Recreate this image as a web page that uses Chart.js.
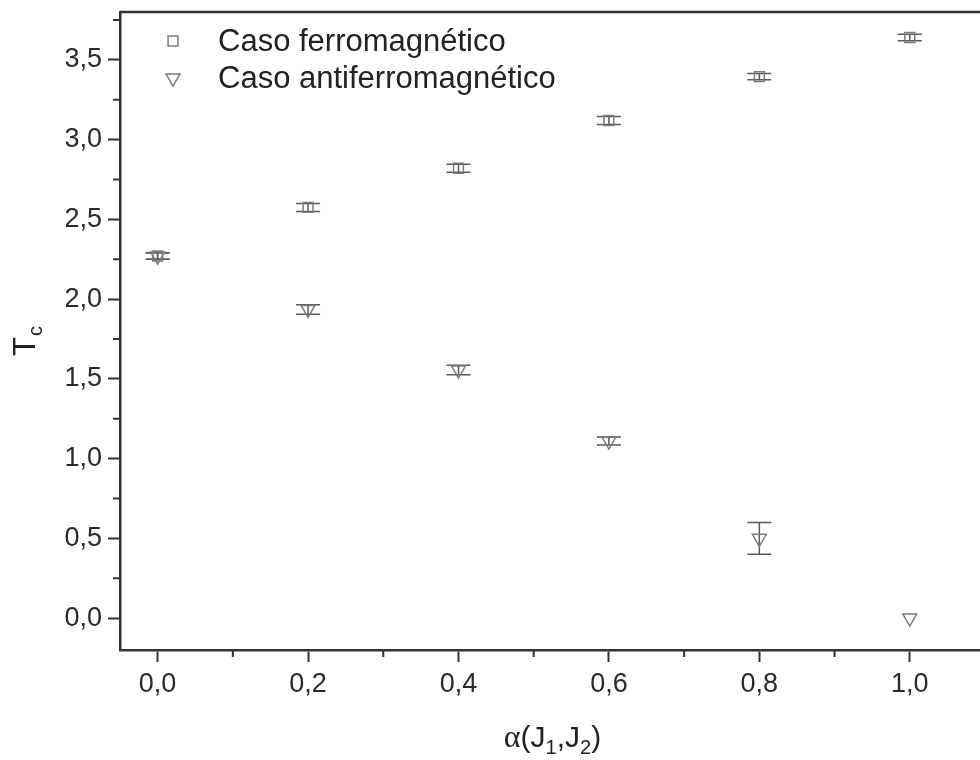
<!DOCTYPE html>
<html>
<head>
<meta charset="utf-8">
<script src="https://cdn.jsdelivr.net/npm/chart.js@4.4.1/dist/chart.umd.min.js"></script>
<style>
  html, body { margin: 0; padding: 0; background: #fff; overflow: hidden; }
  #wrap { width: 1000px; height: 760px; }
</style>
</head>
<body>
<div id="wrap"><canvas id="tcChart" width="1000" height="760"></canvas></div>
<script>
// =====================
// Data
// =====================
const alphaValues = [0, 0.2, 0.4, 0.6, 0.8, 1.0]

const ferroLabel = "Caso ferromagnético"
const ferroTc = [2.27, 2.575, 2.82, 3.12, 3.395, 3.64]
const ferroErr = [0.02, 0.025, 0.025, 0.025, 0.02, 0.02]

const antiLabel = "Caso antiferromagnético"
const antiTc = [2.27, 1.935, 1.555, 1.11, 0.5, 0.0]
const antiErr = [0.02, 0.03, 0.03, 0.025, 0.10, 0]

const xTicks = [0, 0.2, 0.4, 0.6, 0.8, 1.0]
const xMinorTicks = [0.1, 0.3, 0.5, 0.7, 0.9]
const yTicks = [0, 0.5, 1.0, 1.5, 2.0, 2.5, 3.0, 3.5]
const yMinorTicks = [-0.25, 0.25, 0.75, 1.25, 1.75, 2.25, 2.75, 3.25, 3.75]

const AXIS = "#333"
const MARK = "#7c7c7c"
const ERRBAR = "#5a5a5a"
const SANS = "'Liberation Sans', Arial, sans-serif"

function comma(v) {
  return v.toFixed(1).replace(".", ",")
}

function toPoints(ys, errs) {
  return alphaValues.map((x, i) => ({ x: x, y: ys[i], err: errs[i] }))
}


// =====================
// Extra drawing: error bars, minor ticks, frame, legend, titles
// =====================
const extrasPlugin = {
  id: "extras",
  beforeDatasetsDraw(chart) {
    const ctx = chart.ctx
    const xs = chart.scales.x
    const ys = chart.scales.y
    ctx.save()
    ctx.strokeStyle = ERRBAR
    ctx.lineWidth = 1.5
    chart.data.datasets.forEach(ds => {
      ds.data.forEach(p => {
        if (!p.err) return
        const px = xs.getPixelForValue(p.x)
        const top = ys.getPixelForValue(p.y + p.err)
        const bot = ys.getPixelForValue(p.y - p.err)
        ctx.beginPath()
        ctx.moveTo(px, top); ctx.lineTo(px, bot)
        ctx.moveTo(px - 12, top); ctx.lineTo(px + 12, top)
        ctx.moveTo(px - 12, bot); ctx.lineTo(px + 12, bot)
        ctx.stroke()
      })
    })
    ctx.restore()
  },
  afterDraw(chart) {
    const ctx = chart.ctx
    const area = chart.chartArea
    const xs = chart.scales.x
    const ys = chart.scales.y
    ctx.save()

    // top frame line
    ctx.strokeStyle = AXIS
    ctx.lineWidth = 2.5
    ctx.beginPath()
    ctx.moveTo(area.left, area.top)
    ctx.lineTo(area.right + 20, area.top)
    ctx.stroke()

    // minor ticks
    ctx.lineWidth = 2
    ctx.beginPath()
    xMinorTicks.forEach(v => {
      const px = xs.getPixelForValue(v)
      ctx.moveTo(px, area.bottom); ctx.lineTo(px, area.bottom + 7)
    })
    yMinorTicks.forEach(v => {
      const py = ys.getPixelForValue(v)
      if (py < area.top || py > area.bottom) return
      ctx.moveTo(area.left, py); ctx.lineTo(area.left - 7, py)
    })
    ctx.stroke()

    // legend
    const rows = [
      { label: chart.data.datasets[0].label, style: "rect", y: 41 },
      { label: chart.data.datasets[1].label, style: "triangle", y: 78 }
    ]
    rows.forEach(r => {
      ctx.strokeStyle = MARK
      ctx.fillStyle = "rgba(0,0,0,0)"
      ctx.lineWidth = 1.5
      Chart.helpers.drawPoint(ctx, {
        pointStyle: r.style,
        radius: r.style === "rect" ? 7 : 8,
        rotation: r.style === "triangle" ? 180 : 0,
        borderWidth: 1.5
      }, 173, r.y)
      ctx.font = "31px " + SANS
      ctx.fillStyle = "#222"
      ctx.textBaseline = "middle"
      ctx.fillText(r.label, 218, r.y + 1)
    })

    // y title T_c
    ctx.fillStyle = "#222"
    ctx.translate(35, 356)
    ctx.rotate(-Math.PI / 2)
    ctx.textBaseline = "alphabetic"
    ctx.textAlign = "left"
    ctx.font = "31px " + SANS
    ctx.fillText("T", 0, 0)
    const tw = ctx.measureText("T").width
    ctx.font = "20px " + SANS
    ctx.fillText("c", tw + 1, 7)
    ctx.setTransform(1, 0, 0, 1, 0, 0)

    // x title α(J1,J2)
    const parts = [
      { t: "α", f: "32px 'Liberation Serif', serif", dy: 0 },
      { t: "(J", f: "30px " + SANS, dy: 0 },
      { t: "1", f: "20px " + SANS, dy: 7 },
      { t: ",J", f: "30px " + SANS, dy: 0 },
      { t: "2", f: "20px " + SANS, dy: 7 },
      { t: ")", f: "30px " + SANS, dy: 0 }
    ]
    let total = 0
    parts.forEach(p => { ctx.font = p.f; p.w = ctx.measureText(p.t).width; total += p.w })
    let cx = (area.left + area.right) / 2 - total / 2
    parts.forEach(p => {
      ctx.font = p.f
      ctx.fillText(p.t, cx, 747 + p.dy)
      cx += p.w
    })

    ctx.restore()
  }
}


// =====================
// Build chart
// =====================
const chart = new Chart(document.getElementById("tcChart"), {
  type: "scatter",
  data: {
    datasets: [
      {
        label: ferroLabel,
        data: toPoints(ferroTc, ferroErr),
        pointStyle: "rect",
        pointRadius: 7,
        pointBorderColor: MARK,
        pointBackgroundColor: "rgba(0,0,0,0)",
        pointBorderWidth: 1.5
      },
      {
        label: antiLabel,
        data: toPoints(antiTc, antiErr),
        pointStyle: "triangle",
        pointRotation: 180,
        pointRadius: 8,
        pointBorderColor: MARK,
        pointBackgroundColor: "rgba(0,0,0,0)",
        pointBorderWidth: 1.5
      }
    ]
  },
  options: {
    responsive: false,
    animation: false,
    devicePixelRatio: 1,
    layout: { padding: { left: 0, top: 12, right: 15, bottom: 0 } },
    plugins: {
      legend: { display: false },
      tooltip: { enabled: false }
    },
    scales: {
      x: {
        type: "linear",
        min: -0.05,
        max: 1.1,
        afterBuildTicks: s => { s.ticks = xTicks.map(v => ({ value: v })) },
        afterFit: s => { s.height = 110; s.paddingLeft = 0; s.paddingRight = 0 },
        border: { display: true, color: AXIS, width: 2.5 },
        grid: { drawOnChartArea: false, drawTicks: true, tickLength: 12, tickColor: AXIS, tickWidth: 2 },
        ticks: {
          padding: 6,
          color: "#2a2a2a",
          font: { family: SANS, size: 27 },
          maxRotation: 0,
          callback: v => comma(v)
        }
      },
      y: {
        type: "linear",
        min: -0.2,
        max: 3.8,
        afterBuildTicks: s => { s.ticks = yTicks.map(v => ({ value: v })) },
        afterFit: s => { s.width = 120; s.paddingTop = 0; s.paddingBottom = 0 },
        border: { display: true, color: AXIS, width: 2.5 },
        grid: { drawOnChartArea: false, drawTicks: true, tickLength: 12, tickColor: AXIS, tickWidth: 2 },
        ticks: {
          padding: 6,
          color: "#2a2a2a",
          font: { family: SANS, size: 27 },
          callback: v => comma(v)
        }
      }
    }
  },
  plugins: [extrasPlugin]
})
</script>
</body>
</html>
